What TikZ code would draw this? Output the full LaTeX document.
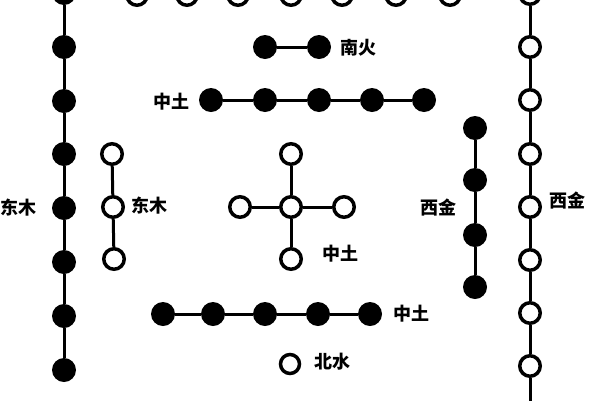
\documentclass[tikz,border=0pt]{standalone}
\usepackage{fontspec}
\newfontfamily\cjk{Noto Sans CJK SC}
\begin{document}
\begin{tikzpicture}[x=1pt,y=-1pt,
  bdot/.style={circle,fill=black,inner sep=0pt,minimum size=24pt},
  wdot/.style={circle,draw=black,line width=3.5pt,fill=white,inner sep=0pt,minimum size=20.5pt},
  link/.style={line width=3pt},
  lab/.style={font=\cjk\bfseries\fontsize{18}{18}\selectfont,inner sep=0pt}]
\useasboundingbox (0,0) rectangle (600,400);
% left column: 8 black
\foreach \i/\y in {1/-7,2/47,3/101,4/154,5/208,6/262,7/316,8/370}
  \node[bdot] (L\i) at (64,\y) {};
\draw[link] (L1) -- (L2) -- (L3) -- (L4) -- (L5) -- (L6) -- (L7) -- (L8);
\node[lab] (tL) at (18,208) {东木};
% right column: 9 white
\foreach \i/\y in {1/-6,2/47,3/100,4/154,5/207,6/260,7/313,8/366,9/420}
  \node[wdot] (R\i) at (530,\y) {};
\draw[link] (R1) -- (R2) -- (R3) -- (R4) -- (R5) -- (R6) -- (R7) -- (R8) -- (R9);
\node[lab] (tR) at (567,201) {西金};
% top row: 7 white
\foreach \i/\x in {1/137,2/187,3/238,4/291,5/342,6/396,7/450}
  \node[wdot] (T\i) at (\x,-5) {};
\draw[link] (T1) -- (T2) -- (T3) -- (T4) -- (T5) -- (T6) -- (T7);
% south fire: 2 black
\node[bdot] (S1) at (265,47) {};
\node[bdot] (S2) at (319,47) {};
\draw[link] (S1) -- (S2);
\node[lab] (tS) at (358,48) {南火};
% upper centre earth: 5 black
\foreach \i/\x in {1/211,2/265,3/319,4/372,5/424}
  \node[bdot] (U\i) at (\x,100) {};
\draw[link] (U1) -- (U2) -- (U3) -- (U4) -- (U5);
\node[lab] (tU) at (171,102) {中土};
% east wood inner: 3 white
\node[wdot] (E1) at (112,154) {};
\node[wdot] (E2) at (113,207) {};
\node[wdot] (E3) at (114,259) {};
\draw[link] (E1) -- (E2) -- (E3);
\node[lab] (tE) at (149,206) {东木};
% centre cross: 5 white
\node[wdot] (C0) at (291,207) {};
\node[wdot] (Cn) at (291,154) {};
\node[wdot] (Cs) at (291,259) {};
\node[wdot] (Cw) at (240,207) {};
\node[wdot] (Ce) at (344,207) {};
\draw[link] (Cn) -- (C0) -- (Cs) (Cw) -- (C0) -- (Ce);
\node[lab] (tC) at (340,254) {中土};
% west metal inner: 4 black
\foreach \i/\y in {1/128,2/180,3/235,4/287}
  \node[bdot] (W\i) at (475,\y) {};
\draw[link] (W1) -- (W2) -- (W3) -- (W4);
\node[lab] (tW) at (438,208) {西金};
% lower centre earth: 5 black
\foreach \i/\x in {1/163,2/213,3/265,4/318,5/370}
  \node[bdot] (D1\i) at (\x,314) {};
\draw[link] (D11) -- (D12) -- (D13) -- (D14) -- (D15);
\node[lab] (tD) at (411,314) {中土};
% north water: 1 white
\node[wdot,minimum size=19pt] (N1) at (290,364) {};
\node[lab] (tN) at (332,362) {北水};
\end{tikzpicture}
\end{document}
